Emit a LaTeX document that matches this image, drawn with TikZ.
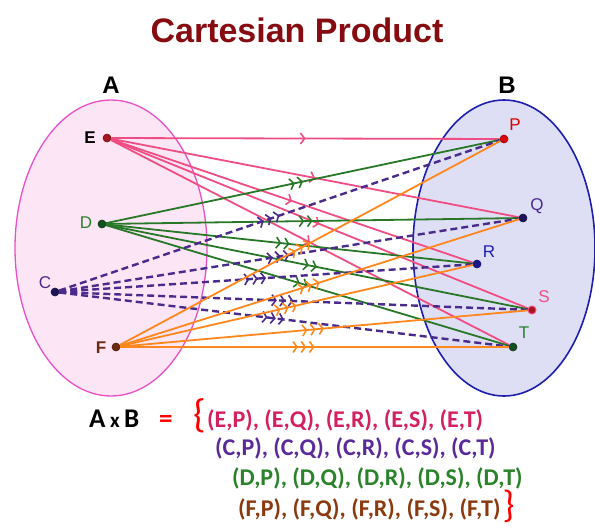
\documentclass[tikz,border=0pt]{standalone}
\usepackage{fontspec}
\setmainfont{Liberation Sans}
\newfontfamily\calib{Carlito}
\usetikzlibrary{arrows.meta,decorations.markings}
\definecolor{titlered}{RGB}{135,12,18}
\definecolor{afill}{RGB}{252,230,245}
\definecolor{aedge}{RGB}{232,80,200}
\definecolor{bfill}{RGB}{222,222,245}
\definecolor{bedge}{RGB}{30,30,175}
\definecolor{pinkl}{RGB}{240,78,130}
\definecolor{greenl}{RGB}{40,120,40}
\definecolor{purpl}{RGB}{74,42,138}
\definecolor{orangel}{RGB}{255,135,30}
\definecolor{txtone}{RGB}{212,32,96}
\definecolor{txttwo}{RGB}{90,42,154}
\definecolor{txtthree}{RGB}{42,130,42}
\definecolor{txtfour}{RGB}{139,58,16}
\definecolor{dotred}{RGB}{170,20,30}
\definecolor{dotnavy}{RGB}{30,20,90}
\definecolor{dotbrown}{RGB}{110,40,20}
\definecolor{dotgreen}{RGB}{20,80,30}
\tikzset{
  pt/.style={circle,inner sep=0pt,minimum size=8pt,draw=#1!70!black,fill=#1,line width=0.6pt},
  lab/.style={font=\fontsize{17}{17}\selectfont,inner sep=0pt},
  blab/.style={font=\bfseries\fontsize{17}{17}\selectfont,inner sep=0pt},
  ch1/.style={postaction={decorate},decoration={markings,mark=at position 0.5 with {\arrow[line width=1.6pt,solid]{Straight Barb[length=4pt,width=11pt]}}}},
  ch2/.style={postaction={decorate},decoration={markings,mark=at position 0.5 with {\arrow[line width=1.6pt,solid]{Straight Barb[length=4pt,width=11pt,sep=2.5pt] Straight Barb[length=4pt,width=11pt]}}}},
  ch3/.style={postaction={decorate},decoration={markings,mark=at position 0.5 with {\arrow[line width=1.6pt,solid]{Straight Barb[length=4pt,width=11pt,sep=2.5pt] Straight Barb[length=4pt,width=11pt,sep=2.5pt] Straight Barb[length=4pt,width=11pt]}}}},
  pinkline/.style={pinkl,line width=1.8pt,ch1},
  greenline/.style={greenl,line width=1.8pt,ch2},
  purpline/.style={purpl,line width=2.4pt,dash pattern=on 7pt off 4pt,ch3},
  orangeline/.style={orangel,line width=1.8pt,ch3},
  pairs/.style={font=\calib\bfseries\fontsize{24}{24}\selectfont,anchor=base west,inner sep=0pt},
}
\begin{document}
\begin{tikzpicture}[x=1pt,y=-1pt]
\useasboundingbox (0,0) rectangle (595,531);
\node[font=\bfseries\fontsize{34}{34}\selectfont,text=titlered] (title) at (297,30) {Cartesian Product};
\node[font=\bfseries\fontsize{24}{24}\selectfont] (labA) at (111,85) {A};
\node[font=\bfseries\fontsize{24}{24}\selectfont] (labB) at (507,85) {B};
\draw[aedge,fill=afill,line width=1.3pt] (111,248) ellipse [x radius=96,y radius=148];
\draw[bedge,fill=bfill,line width=1.6pt] (504,248) ellipse [x radius=91,y radius=148];
% points
\node[pt=dotred] (E) at (107,138) {};
\node[pt=dotgreen] (D) at (102,224) {};
\node[pt=dotnavy] (C) at (55,292) {};
\node[pt=dotbrown] (F) at (116,347) {};
\node[pt=red!85!black] (P) at (504,139) {};
\node[pt=dotnavy] (Q) at (523,218) {};
\node[pt=bedge!80!black] (R) at (477,264) {};
\node[circle,inner sep=0pt,minimum size=8pt,draw=pinkl,fill=dotred,line width=1pt] (S) at (532,310) {};
\node[pt=dotgreen] (T) at (513,347) {};
% edges
\foreach \b in {P,Q,R,S,T} {\draw[pinkline] (E) -- (\b);}
\foreach \b in {P,Q,R,S,T} {\draw[greenline] (D) -- (\b);}
\foreach \b in {P,Q,R,S,T} {\draw[purpline] (C) -- (\b);}
\foreach \b in {P,Q,R,S,T} {\draw[orangeline] (F) -- (\b);}
% labels
\node[blab] (lE) at (90,138) {E};
\node[lab,text=txtthree] (lD) at (86,223) {D};
\node[lab,text=purpl] (lC) at (45,283) {C};
\node[blab,text=dotbrown] (lF) at (101,348) {F};
\node[lab,text=red!85!black] (lP) at (515,125) {P};
\node[lab,text=purpl] (lQ) at (537,206) {Q};
\node[lab,text=bedge] (lR) at (489,252) {R};
\node[lab,text=pinkl] (lS) at (544,297) {S};
\node[lab,text=txtthree] (lT) at (524,333) {T};
% product set
\node[pairs,font=\calib\bfseries\fontsize{27}{27}\selectfont] (axb) at (89,427) {A\,{\fontsize{21}{21}\selectfont x}\,B};
\node[pairs,font=\calib\bfseries\fontsize{27}{27}\selectfont,text=red] (eq) at (159,427) {=};
\node[font=\calib\fontsize{40}{40}\selectfont,text=red,inner sep=0pt] (lb) at (200,416) {\{};
\node[pairs,text=txtone] (l1) at (207,427) {(E,P), (E,Q), (E,R), (E,S), (E,T)};
\node[pairs,text=txttwo] (l2) at (215,455) {(C,P), (C,Q), (C,R), (C,S), (C,T)};
\node[pairs,text=txtthree] (l3) at (232,485) {(D,P), (D,Q), (D,R), (D,S), (D,T)};
\node[pairs,text=txtfour] (l4) at (238,516) {(F,P), (F,Q), (F,R), (F,S), (F,T)};
\node[font=\calib\fontsize{38}{38}\selectfont,text=red,inner sep=0pt,anchor=west] (rb) at ([xshift=2pt,yshift=3pt]l4.east) {\}};
\end{tikzpicture}
\end{document}
